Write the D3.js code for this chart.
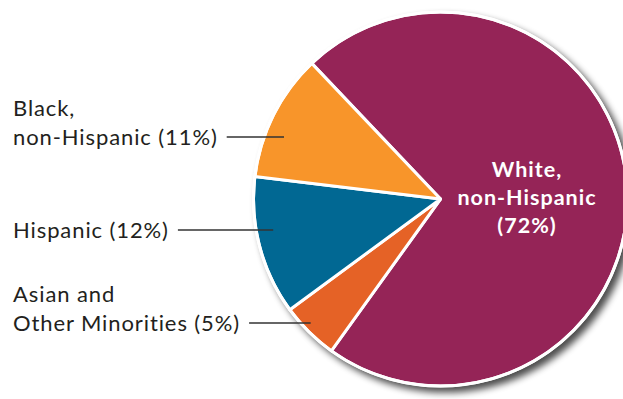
<!DOCTYPE html>
<html>
<head>
<meta charset="utf-8">
<script src="https://cdn.jsdelivr.net/npm/d3@7"></script>
<style>
	html, body { margin: 0; padding: 0; background: #fff; }
	svg { display: block; }
	.label { font-family: Lato, 'Open Sans', sans-serif; font-size: 22px; letter-spacing: 0.9px; fill: #231f20; font-variant-ligatures: none; }
	.inner-label { font-family: Lato, 'Open Sans', sans-serif; font-size: 21.5px; letter-spacing: 1px; font-weight: bold; fill: #fff; }
</style>
</head>
<body>
<div id="chart"></div>
<script>
// Pie chart data (order follows the chart clockwise from the top-left slice edge)
var categories = ['White, non-Hispanic', 'Asian and Other Minorities', 'Hispanic', 'Black, non-Hispanic'];
var values = [72, 5, 12, 11];
var colors = ['#952457', '#e56226', '#016893', '#f8952a'];
var labelLines = [
	['White,', 'non-Hispanic', '(72%)'],
	['Asian and', 'Other Minorities (5%)'],
	['Hispanic (12%)'],
	['Black,', 'non-Hispanic (11%)']
];

var width = 623,
	height = 399,
	cx = 440.5,
	cy = 199,
	radius = 187,
	startAngle = -43.5 * Math.PI / 180;

var data = categories.map(function(c, i) {
	return {key: c, value: values[i], color: colors[i], lines: labelLines[i]};
});

var svg = d3.select('#chart').append('svg')
	.attr('width', width)
	.attr('height', height);

// drop shadow under the pie
var defs = svg.append('defs');
var filter = defs.append('filter')
	.attr('id', 'shadow')
	.attr('x', '-20%').attr('y', '-20%')
	.attr('width', '140%').attr('height', '140%');
filter.append('feGaussianBlur')
	.attr('in', 'SourceAlpha')
	.attr('stdDeviation', 3.5);
filter.append('feOffset')
	.attr('dx', 5).attr('dy', 5)
	.attr('result', 'off');
filter.append('feComponentTransfer')
	.append('feFuncA').attr('type', 'linear').attr('slope', 0.7);

var pie = d3.pie()
	.value(function(d) { return d.value; })
	.sort(null)
	.startAngle(startAngle)
	.endAngle(startAngle + 2 * Math.PI);

var arc = d3.arc()
	.innerRadius(0)
	.outerRadius(radius);

var g = svg.append('g')
	.attr('transform', 'translate(' + cx + ',' + cy + ')');

g.append('circle')
	.attr('r', radius + 1.5)
	.attr('fill', '#000')
	.attr('filter', 'url(#shadow)');

var arcs = pie(data);

g.selectAll('path')
	.data(arcs)
	.enter().append('path')
	.attr('d', arc)
	.attr('fill', function(d) { return d.data.color; })
	.attr('stroke', '#fff')
	.attr('stroke-width', 3)
	.attr('stroke-linejoin', 'round');

g.append('circle')
	.attr('r', radius)
	.attr('fill', 'none')
	.attr('stroke', '#fff')
	.attr('stroke-width', 3);

// label inside the big slice
var big = arcs[0];
var inner = svg.append('text')
	.attr('class', 'inner-label')
	.attr('text-anchor', 'middle');
big.data.lines.forEach(function(t, i) {
	inner.append('tspan')
		.attr('x', 527)
		.attr('y', 177 + i * 28)
		.text(t);
});

// outside labels with leader lines (layout: y of the leader, radius fraction of the end point)
var outside = [
	{idx: 3, lineY: 137, k: 0.9},
	{idx: 2, lineY: 230, k: 0.91},
	{idx: 1, lineY: 323, k: 0.96}
];

outside.forEach(function(o) {
	var d = arcs[o.idx];
	var lines = d.data.lines;
	var lastBase = o.lineY + 8;
	var text = svg.append('text')
		.attr('class', 'label');
	lines.forEach(function(t, i) {
		text.append('tspan')
			.attr('x', 13)
			.attr('y', lastBase - (lines.length - 1 - i) * 29)
			.text(t);
	});
	var lastSpan = text.selectAll('tspan').nodes()[lines.length - 1];
	var textEnd = 13 + lastSpan.getComputedTextLength();
	var dy = o.lineY - cy;
	var r = radius * o.k;
	var endX = cx - Math.sqrt(r * r - dy * dy);
	svg.append('line')
		.attr('x1', textEnd + 9)
		.attr('x2', endX)
		.attr('y1', o.lineY)
		.attr('y2', o.lineY)
		.attr('stroke', '#333')
		.attr('stroke-width', 1.4);
});
</script>
</body>
</html>
